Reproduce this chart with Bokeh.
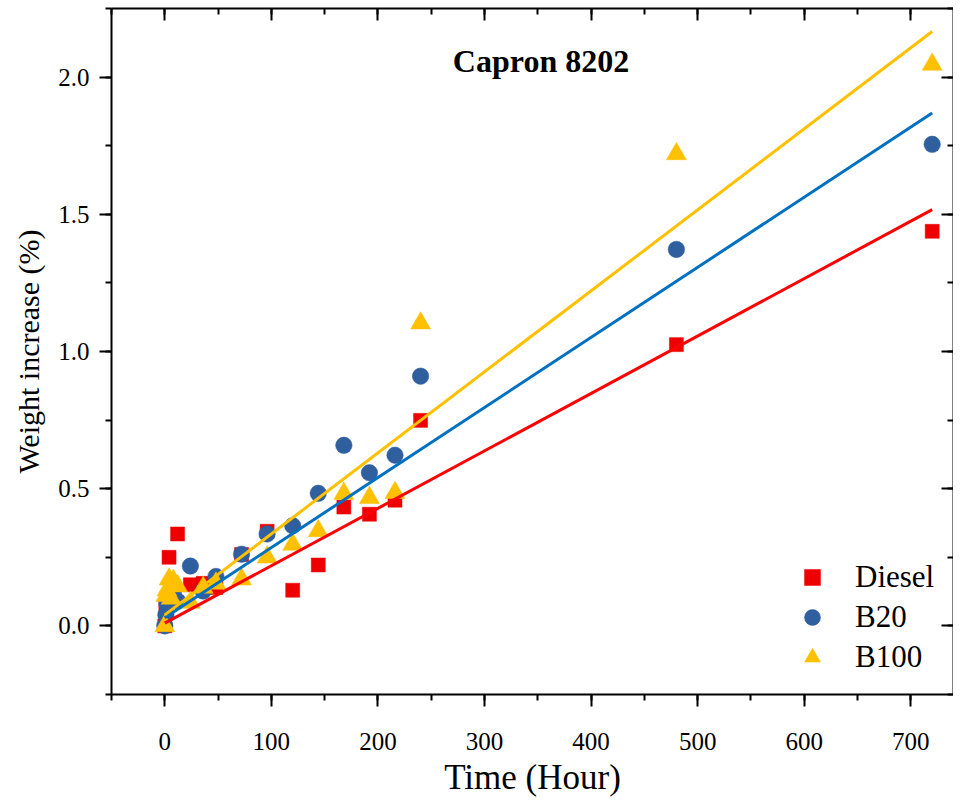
import numpy as np
from bokeh.plotting import figure
from bokeh.models import (Range1d, LinearAxis, SingleIntervalTicker, NumeralTickFormatter,
                          Label, Legend, LegendItem, ColumnDataSource)
from bokeh.embed import file_html
from bokeh.resources import INLINE

# ---------------- data ----------------
times = [0, 1, 2, 4, 6, 8, 12, 24, 36, 48, 72, 96, 120, 144, 168, 192, 216, 240, 480, 720]
diesel = [0.0, 0.07, 0.10, 0.25, 0.12, 0.09, 0.335, 0.15, 0.155, 0.14, 0.26, 0.345,
          0.13, 0.222, 0.433, 0.407, 0.458, 0.749, 1.025, 1.438]
b20 = [0.0, 0.04, 0.08, 0.11, 0.10, 0.12, 0.09, 0.218, 0.127, 0.18, 0.261, 0.335,
       0.365, 0.483, 0.658, 0.558, 0.622, 0.91, 1.372, 1.755]
b100 = [0.0, 0.11, 0.13, 0.17, 0.10, 0.165, 0.145, 0.085, 0.14, 0.155, 0.17, 0.25,
        0.297, 0.346, 0.482, 0.467, 0.485, 1.103, 1.72, 2.046]

series_names = ["Diesel", "B20", "B100"]
fit_intercept = [0.01, 0.03, 0.04]
fit_slope = [0.002093, 0.002554, 0.002953]

title_text = "Capron 8202"
x_label = "Time (Hour)"
y_label = "Weight increase (%)"

# ---------------- styling ----------------
FONT = "Liberation Serif"
marker_colors = ["#EE0000", "#2F5F9E", "#FFC000"]
line_colors = ["#FF0000", "#0070C0", "#FFC000"]
markers = ["square", "circle", "triangle"]
sizes = [14, 16.5, 20]

p = figure(width=953, height=799,
           x_range=Range1d(-50, 740), y_range=Range1d(-0.25, 2.25),
           output_backend="svg", toolbar_location=None,
           min_border_left=111, min_border_right=0, min_border_top=8,
           min_border_bottom=105,
           x_axis_label=x_label, y_axis_label=y_label)
p.xgrid.visible = False
p.ygrid.visible = False
p.outline_line_color = None
p.background_fill_color = "white"
p.border_fill_color = "white"

p.xaxis.ticker = SingleIntervalTicker(interval=100, num_minor_ticks=2)
p.yaxis.ticker = SingleIntervalTicker(interval=0.5, num_minor_ticks=2)
p.yaxis.formatter = NumeralTickFormatter(format="0.0")

for ax in (p.xaxis[0], p.yaxis[0]):
    ax.axis_line_width = 2
    ax.major_tick_line_width = 2
    ax.minor_tick_line_width = 2
    ax.major_tick_out = 12
    ax.major_tick_in = 0
    ax.minor_tick_out = 6
    ax.minor_tick_in = 0
    ax.major_label_text_font = FONT
    ax.major_label_text_font_size = "25px"
    ax.major_label_text_color = "black"
    ax.axis_label_text_font = FONT
    ax.axis_label_text_font_style = "normal"
    ax.axis_label_text_color = "black"
    ax.axis_line_color = "black"
    ax.major_tick_line_color = "black"
    ax.minor_tick_line_color = "black"

p.xaxis.axis_label_text_font_size = "35px"
p.yaxis.axis_label_text_font_size = "30px"
p.xaxis.major_label_standoff = 26
p.xaxis.axis_label_standoff = 5
p.yaxis.major_label_standoff = 10
p.yaxis.axis_label_standoff = 10

top = LinearAxis(ticker=SingleIntervalTicker(interval=100, num_minor_ticks=2))
right = LinearAxis(ticker=SingleIntervalTicker(interval=0.5, num_minor_ticks=2))
for ax in (top, right):
    ax.axis_line_width = 2
    ax.major_tick_line_width = 2
    ax.minor_tick_line_width = 2
    ax.major_tick_out = 0
    ax.major_tick_in = 12
    ax.minor_tick_out = 0
    ax.minor_tick_in = 6
    ax.major_label_text_font_size = "1px"
    ax.major_label_text_alpha = 0
    ax.major_label_text_color = None
    ax.major_label_standoff = 0
    ax.axis_label = None
p.add_layout(top, "above")
p.add_layout(right, "right")

values = [diesel, b20, b100]
renderers = []
for vals, m, c, s in zip(values, markers, marker_colors, sizes):
    src = ColumnDataSource(dict(x=times, y=vals))
    r = p.scatter("x", "y", source=src, marker=m, size=s, fill_color=c, line_color=c,
                  line_width=0.5)
    renderers.append(r)

for a, b, c in zip(fit_intercept, fit_slope, line_colors):
    lx = np.array([min(times), max(times)], dtype=float)
    ly = a + b * lx
    p.line(lx, ly, line_color=c, line_width=3)

legend = Legend(items=[LegendItem(label=n, renderers=[r]) for n, r in zip(series_names, renderers)],
                location=(681, 17), orientation="vertical")
legend.background_fill_alpha = 0
legend.border_line_color = None
legend.padding = 0
legend.margin = 0
legend.spacing = 0
legend.glyph_width = 40
legend.glyph_height = 40
legend.label_height = 40
legend.label_standoff = 23
legend.label_text_font = FONT
legend.label_text_font_size = "31px"
legend.label_text_color = "black"
p.add_layout(legend, "center")

p.add_layout(Label(x=353, y=2.057, text=title_text, text_font=FONT, text_font_size="32px",
                   text_font_style="bold", text_align="center", text_baseline="middle",
                   text_color="black"))

open("out.html", "w").write(file_html(p, INLINE))
